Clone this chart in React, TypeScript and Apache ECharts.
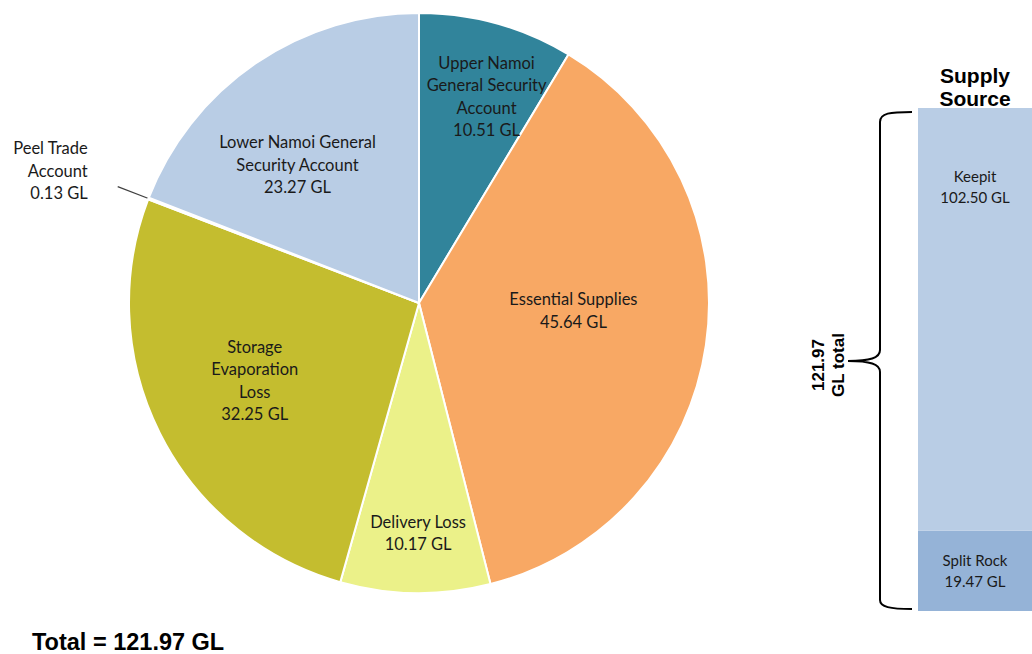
import React, { useEffect, useRef } from "react";
import * as echarts from "echarts";

const useNames = [
  "Upper Namoi\nGeneral Security\nAccount",
  "Essential Supplies",
  "Delivery Loss",
  "Storage\nEvaporation\nLoss",
  "Peel Trade\nAccount",
  "Lower Namoi General\nSecurity Account",
];
const useValues = [10.51, 45.64, 10.17, 32.25, 0.13, 23.27];
const useColors = ["#31849B", "#F8A864", "#EBF189", "#C4BD2F", "#DCE6F2", "#B9CDE5"];
const labelOffsets: number[][] = [
  [28, -64],
  [8, -14],
  [1, 82],
  [-32, 11],
  [-25, -16],
  [-38, -16],
];

const sourceNames = ["Keepit", "Split Rock"];
const sourceValues = [102.5, 19.47];
const sourceColors = ["#B9CDE5", "#95B3D7"];
const totalValue = 121.97;

const bracePath =
  "M912,112 C890,112 880,113 880,122 L880,350 C880,358 870,361 848,361 C870,361 880,364 880,372 L880,600 C880,607 890,609 912,609";

export default function App() {
  const ref = useRef<HTMLDivElement>(null);
  useEffect(() => {
    if (!ref.current) return;
    echarts.graphic.registerShape("brace", echarts.graphic.extendPath(bracePath, {}) as any);
    const chart = echarts.init(ref.current, null, { renderer: "svg" });
    const labelFont = "Lato, 'Noto Sans', sans-serif";
    const pieData = useNames.map((n, i) => {
      const item: any = {
        name: n,
        value: useValues[i],
        itemStyle: { color: useColors[i] },
        label: { offset: labelOffsets[i] },
      };
      if (i === 4) {
        item.label = {
          position: "outside",
          offset: labelOffsets[i],
          align: "center",
        };
        item.labelLine = { show: true, length: 33, length2: 0, lineStyle: { color: "#404040", width: 1.2 } };
      }
      return item;
    });
    // stack bottom-up: last source at the bottom
    const order = sourceNames.map((_, i) => i).reverse();
    const barSeries = order.map((i) => ({
      type: "bar",
      name: sourceNames[i],
      stack: "src",
      xAxisIndex: 0,
      yAxisIndex: 0,
      barWidth: "100%",
      data: [sourceValues[i]],
      itemStyle: { color: sourceColors[i] },
      label: {
        show: true,
        position: i === 0 ? "insideTop" : "inside",
        distance: 57,
        formatter: (p: any) => `${p.seriesName}\n${p.value.toFixed(2)} GL`,
        fontFamily: labelFont,
        fontSize: 15,
        lineHeight: 21,
        color: "#1a1a1a",
      },
    }));
    chart.setOption({
      animation: false,
      grid: { left: 918, width: 114, top: 108, height: 503 },
      xAxis: { type: "category", data: ["src"], show: false },
      yAxis: { type: "value", min: 0, max: totalValue, show: false },
      series: [
        {
          type: "pie",
          center: [419, 303],
          radius: [0, 290],
          startAngle: 90,
          clockwise: true,
          avoidLabelOverlap: false,
          itemStyle: { borderColor: "#ffffff", borderWidth: 2 },
          label: {
            show: true,
            position: "inside",
            formatter: (p: any) => `${p.name}\n${p.value.toFixed(2)} GL`,
            fontFamily: labelFont,
            fontSize: 16.5,
            lineHeight: 22.5,
            color: "#1a1a1a",
            align: "center",
          },
          labelLine: { show: false },
          emphasis: { disabled: true },
          data: pieData,
        },
        ...barSeries,
      ],
      graphic: [
        {
          type: "text",
          x: 32,
          y: 642,
          style: {
            text: `Total = ${totalValue.toFixed(2)} GL`,
            font: "bold 23.5px 'Liberation Sans', Arial, sans-serif",
            fill: "#000",
            verticalAlign: "middle",
          },
        },
        {
          type: "text",
          x: 975,
          y: 87,
          style: {
            text: "Supply\nSource",
            font: "bold 21px 'Liberation Sans', Arial, sans-serif",
            lineHeight: 23,
            fill: "#000",
            align: "center",
            verticalAlign: "middle",
          },
        },
        {
          type: "brace",
          shape: {},
          style: { stroke: "#000", lineWidth: 2, fill: "none" },
        },
        {
          type: "text",
          x: 828,
          y: 365,
          rotation: Math.PI / 2,
          style: {
            text: `${totalValue.toFixed(2)}\nGL total`,
            font: "bold 17px 'Liberation Sans', Arial, sans-serif",
            lineHeight: 20,
            fill: "#000",
            align: "center",
            verticalAlign: "middle",
          },
        },
      ],
    });
    return () => chart.dispose();
  }, []);
  return (
    <div
      ref={ref}
      style={{ position: "fixed", left: 0, top: 0, width: 1032, height: 654, background: "#fff" }}
    />
  );
}
